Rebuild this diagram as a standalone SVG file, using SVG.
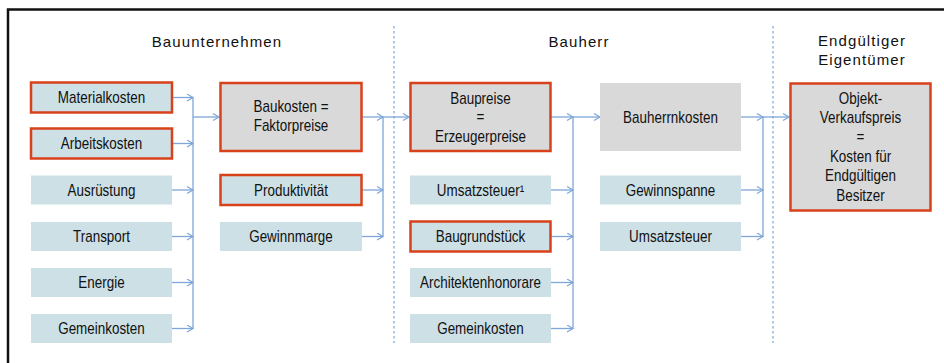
<svg xmlns="http://www.w3.org/2000/svg" width="944" height="363" viewBox="0 0 944 363">
<defs>
<marker id="arr" markerWidth="10" markerHeight="10" refX="7" refY="4" orient="auto" markerUnits="userSpaceOnUse">
<path d="M1,0.5 L7,4 L1,7.5" fill="none" stroke="#7ea6d9" stroke-width="1.2"/>
</marker>
<style>
.bl{fill:#cce0e6;}
.gr{fill:#d9d9d9;}
.rd{stroke:#d9411b;stroke-width:2.5;}
.t{font-family:"Liberation Sans",Arial,sans-serif;font-size:16px;fill:#111111;text-anchor:middle;}
.h{font-family:"Liberation Sans",Arial,sans-serif;font-size:15px;fill:#111111;text-anchor:middle;letter-spacing:1.1px;}
.c{fill:none;stroke:#7ea6d9;stroke-width:1.3;}
.a{marker-end:url(#arr);}
.sep{fill:none;stroke:#7ea6d9;stroke-width:1.2;stroke-dasharray:2.5 2.5;}
</style>
</defs>
<rect x="0" y="0" width="944" height="363" fill="#ffffff"/>
<rect x="8" y="9.5" width="960" height="380" fill="#ffffff" stroke="#111111" stroke-width="2.5"/>

<g id="headers">
<text class="h" x="217" y="46.5">Bauunternehmen</text>
<text class="h" x="579" y="46.5">Bauherr</text>
<text class="h" x="862" y="46">Endgültiger</text>
<text class="h" x="862" y="65">Eigentümer</text>
</g>

<g id="separators">
<line class="sep" x1="394" y1="26" x2="394" y2="343"/>
<line class="sep" x1="773" y1="26" x2="773" y2="343"/>
</g>

<g id="connectors">
<line class="c a" x1="172" y1="97.5" x2="193" y2="97.5"/>
<line class="c a" x1="172" y1="143.5" x2="193" y2="143.5"/>
<line class="c a" x1="172" y1="190" x2="193" y2="190"/>
<line class="c a" x1="172" y1="236.5" x2="193" y2="236.5"/>
<line class="c a" x1="172" y1="282.5" x2="193" y2="282.5"/>
<line class="c a" x1="172" y1="328.5" x2="193" y2="328.5"/>
<line class="c" x1="193" y1="97.5" x2="193" y2="328.5"/>
<line class="c a" x1="193" y1="117" x2="219" y2="117"/>

<line class="c a" x1="362" y1="117" x2="383" y2="117"/>
<line class="c a" x1="362" y1="190" x2="383" y2="190"/>
<line class="c a" x1="362" y1="236.5" x2="383" y2="236.5"/>
<line class="c" x1="383" y1="117" x2="383" y2="236.5"/>
<line class="c a" x1="383" y1="117" x2="409" y2="117"/>

<line class="c a" x1="551" y1="117" x2="573" y2="117"/>
<line class="c a" x1="551" y1="190" x2="573" y2="190"/>
<line class="c a" x1="551" y1="236.5" x2="573" y2="236.5"/>
<line class="c a" x1="551" y1="282.5" x2="573" y2="282.5"/>
<line class="c a" x1="551" y1="328.5" x2="573" y2="328.5"/>
<line class="c" x1="573" y1="117" x2="573" y2="328.5"/>
<line class="c a" x1="573" y1="117" x2="600" y2="117"/>

<line class="c a" x1="741" y1="117" x2="763" y2="117"/>
<line class="c a" x1="741" y1="190" x2="763" y2="190"/>
<line class="c a" x1="741" y1="236.5" x2="763" y2="236.5"/>
<line class="c" x1="763" y1="117" x2="763" y2="236.5"/>
<line class="c a" x1="763" y1="117" x2="789" y2="117"/>
</g>

<g id="materialkosten"><rect class="bl rd" x="31" y="82.5" width="141" height="30"/><text class="t" transform="translate(101.5,103) scale(0.84,1)">Materialkosten</text></g>
<g id="arbeitskosten"><rect class="bl rd" x="31" y="128.5" width="141" height="30"/><text class="t" transform="translate(101.5,149) scale(0.84,1)">Arbeitskosten</text></g>
<g id="ausruestung"><rect class="bl" x="31" y="175.5" width="141" height="29"/><text class="t" transform="translate(101.5,195.5) scale(0.84,1)">Ausrüstung</text></g>
<g id="transport"><rect class="bl" x="31" y="222" width="141" height="29"/><text class="t" transform="translate(101.5,242) scale(0.84,1)">Transport</text></g>
<g id="energie"><rect class="bl" x="31" y="268" width="141" height="29"/><text class="t" transform="translate(101.5,288) scale(0.84,1)">Energie</text></g>
<g id="gemeinkosten1"><rect class="bl" x="31" y="314" width="141" height="29"/><text class="t" transform="translate(101.5,334) scale(0.84,1)">Gemeinkosten</text></g>

<g id="baukosten"><rect class="gr rd" x="220.5" y="83" width="141" height="68"/><text class="t" transform="translate(291,112) scale(0.84,1)"><tspan x="0" y="0">Baukosten =</tspan><tspan x="0" y="19">Faktorpreise</tspan></text></g>
<g id="produktivitaet"><rect class="bl rd" x="220.5" y="175" width="141" height="30"/><text class="t" transform="translate(291,195.5) scale(0.84,1)">Produktivität</text></g>
<g id="gewinnmarge"><rect class="bl" x="220" y="222" width="142" height="29"/><text class="t" transform="translate(291,242) scale(0.84,1)">Gewinnmarge</text></g>

<g id="baupreise"><rect class="gr rd" x="410.5" y="83" width="140" height="68"/><text class="t" transform="translate(480.5,103.5) scale(0.84,1)"><tspan x="0" y="0">Baupreise</tspan><tspan x="0" y="19">=</tspan><tspan x="0" y="38.5">Erzeugerpreise</tspan></text></g>
<g id="umsatzsteuer1"><rect class="bl" x="410" y="175.5" width="141" height="29"/><text class="t" transform="translate(480.5,195.5) scale(0.84,1)">Umsatzsteuer¹</text></g>
<g id="baugrundstueck"><rect class="bl rd" x="410.5" y="221.5" width="140" height="30"/><text class="t" transform="translate(480.5,242) scale(0.84,1)">Baugrundstück</text></g>
<g id="architektenhonorare"><rect class="bl" x="410" y="268" width="141" height="29"/><text class="t" transform="translate(480.5,288) scale(0.84,1)">Architektenhonorare</text></g>
<g id="gemeinkosten2"><rect class="bl" x="410" y="314" width="141" height="29"/><text class="t" transform="translate(480.5,334) scale(0.84,1)">Gemeinkosten</text></g>

<g id="bauherrnkosten"><rect class="gr" x="600" y="83" width="141" height="68"/><text class="t" transform="translate(670.5,122.5) scale(0.84,1)">Bauherrnkosten</text></g>
<g id="gewinnspanne"><rect class="bl" x="600" y="175.5" width="141" height="29"/><text class="t" transform="translate(670.5,195.5) scale(0.84,1)">Gewinnspanne</text></g>
<g id="umsatzsteuer2"><rect class="bl" x="600" y="222" width="141" height="29"/><text class="t" transform="translate(670.5,242) scale(0.84,1)">Umsatzsteuer</text></g>

<g id="objektverkaufspreis"><rect class="gr rd" x="790.5" y="83.5" width="140" height="127"/>
<text class="t" transform="translate(860.5,103.5) scale(0.84,1)"><tspan x="0" y="0">Objekt-</tspan><tspan x="0" y="19.5">Verkaufspreis</tspan><tspan x="0" y="39">=</tspan><tspan x="0" y="58.5">Kosten für</tspan><tspan x="0" y="78">Endgültigen</tspan><tspan x="0" y="97.5">Besitzer</tspan></text>
</g>
</svg>
